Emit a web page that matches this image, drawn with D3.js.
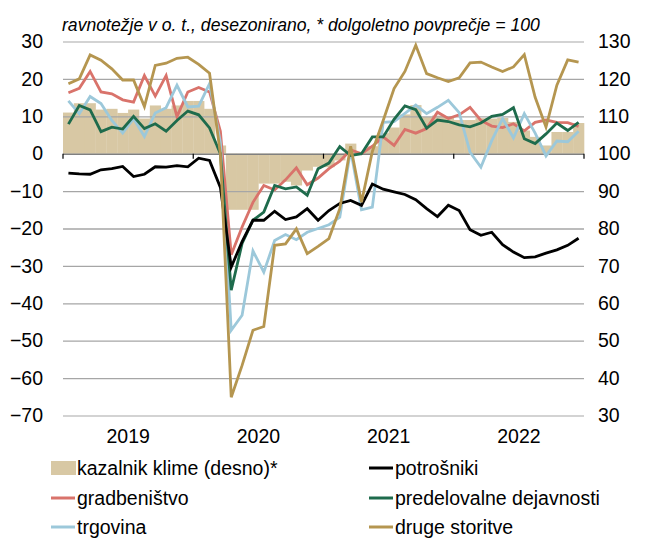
<!DOCTYPE html>
<html><head><meta charset="utf-8">
<script src="https://cdn.jsdelivr.net/npm/d3@7/dist/d3.min.js"></script>
<style>
body{margin:0;background:#fff}
svg{display:block;font-family:"Liberation Sans",Arial,sans-serif}
</style>
</head><body>
<svg id="chart" width="649" height="538"></svg>
<script>
const months = [
"2019-01","2019-02","2019-03","2019-04","2019-05","2019-06","2019-07","2019-08","2019-09","2019-10","2019-11","2019-12",
"2020-01","2020-02","2020-03","2020-04","2020-05","2020-06","2020-07","2020-08","2020-09","2020-10","2020-11","2020-12",
"2021-01","2021-02","2021-03","2021-04","2021-05","2021-06","2021-07","2021-08","2021-09","2021-10","2021-11","2021-12",
"2022-01","2022-02","2022-03","2022-04","2022-05","2022-06","2022-07","2022-08","2022-09","2022-10","2022-11","2022-12"];
const years = ["2019","2020","2021","2022"];
const leftTicks = [30,20,10,0,-10,-20,-30,-40,-50,-60,-70];
const rightTicks = [130,120,110,100,90,80,70,60,50,40,30];

// kazalnik klime (desno), long-term average = 100
const kazalnik = [
111,113.5,113.5,111.8,112,110.9,111.8,109.4,112.9,112,112.9,114.1,
114.1,112,102.2,85,85,85,92,92,92.5,91.5,95.5,96.5,
96.4,98.2,102.7,100.5,102,105.5,107,110.5,113,109.8,110.2,110,
109,109,109.5,109.4,109.6,108.5,106.2,104.5,102.2,105.8,105.8,108.2];
const potrosniki = [
-5.2,-5.4,-5.5,-4.3,-4.0,-3.4,-6.1,-5.5,-3.5,-3.6,-3.2,-3.5,
-1.2,-1.8,-9,-30.3,-23.5,-17.8,-17.8,-15.4,-17.6,-16.9,-14.7,-17.8,
-15.2,-13.3,-12.5,-13.8,-8.1,-9.5,-10.2,-10.9,-12.3,-14.7,-16.8,-13.8,
-15.2,-20.3,-21.8,-21.0,-24.3,-26.3,-27.8,-27.6,-26.6,-25.7,-24.5,-22.6];
const gradbenistvo = [
16.3,17.5,22,16.5,16,14.4,13.8,20.9,15.4,20.9,9.9,16.5,
17.7,16.5,6,-27,-19.6,-13,-8.5,-9.7,-7,-3.8,-8.3,-6.5,
-4,-2,1,0,2,4.5,2.2,6.5,5.5,6.7,11.1,9.4,
10.4,12.4,8.9,7.4,7,8,6.1,8.4,9,8.4,8.3,7.3];
const predelovalne = [
7.9,12.9,11.7,5.9,7.1,6.6,10,6.7,8,6,8.9,11.4,
10.4,6.9,0,-36.5,-24,-17.8,-15.6,-8.5,-9.4,-8.9,-11.1,-4,
-2.5,1.9,-0.5,0,4.5,4.5,9.2,12.8,11.8,6.8,9,8.6,
7.7,7.2,8.2,10,10.5,12.3,4,2.7,5.3,8.2,6.2,8.4];
const trgovina = [
14.1,10.7,15.3,13.4,8.9,5.5,9.4,4.6,10.9,12.3,18.3,12.5,
12.7,18.7,3,-47.2,-43.2,-26,-31.7,-23.2,-21.6,-23,-21,-20,
-19,-17,1,-15,-14.3,8.4,8.6,10.8,13,10.7,12.4,14.3,
11,0.4,-3.6,3.5,9.4,4.2,10.7,5.5,-0.6,3.4,3.2,6];
const drugeStoritve = [
18.7,20,26.4,25,22.7,19.7,19.7,12.6,23.6,24.2,25.5,25.8,
23.9,21.5,0,-65.1,-56.6,-47.2,-46.2,-24.5,-24.1,-20.1,-26.7,-24.8,
-22.7,-14.7,2,-13,0.6,8.9,17.4,22,29,21.4,20.3,19.3,
20.3,24.3,24.5,23.2,22,23.2,26.5,15.1,7.1,18.3,25.1,24.5];

const seriesNames = ["kazalnik klime (desno)*","potrošniki","gradbeništvo","predelovalne dejavnosti","trgovina","druge storitve"];
const seriesColors = ["#d8c8a4","#000000","#d9736b","#1e6b4c","#9cc8da","#b59650"];

const svg = d3.select("#chart");
const x = d3.scaleBand().domain(months).range([63,584]).padding(0);
const xYear = d3.scaleBand().domain(years).range([63,584]).padding(0);
const yL = d3.scaleLinear().domain([-70,30]).range([415.5,41.5]);
const yR = d3.scaleLinear().domain([30,130]).range([415.5,41.5]);

// subtitle
svg.append("text").attr("x",62).attr("y",31).attr("font-style","italic")
  .attr("font-size",17.6).attr("fill","#000")
  .text("ravnotežje v o. t., desezonirano, * dolgoletno povprečje = 100");

// bars
svg.append("g").selectAll("rect").data(kazalnik).join("rect")
  .attr("x",(d,i)=>x(months[i]))
  .attr("width",x.bandwidth()+0.3)
  .attr("y",d=>Math.min(yR(d),yR(100)))
  .attr("height",d=>Math.abs(yR(d)-yR(100)))
  .attr("fill",seriesColors[0]);

// gridlines
const grid = svg.append("g").attr("transform","translate(63,0)")
  .call(d3.axisLeft(yL).tickValues(leftTicks).tickSize(-(584-63)).tickFormat(""));
grid.select(".domain").remove();
grid.selectAll(".tick line")
  .attr("stroke",d=> d===0 ? "#808080" : (d===30||d===-70 ? "#c4c4c4" : "#a6a6a6"))
  .attr("stroke-width",d=> d===0 ? 1.6 : 1.3);

// year ticks on zero line
svg.append("g").selectAll("line").data(years.concat(["end"])).join("line")
  .attr("x1",(d,i)=> i<years.length ? xYear(d) : xYear.range()[1])
  .attr("x2",(d,i)=> i<years.length ? xYear(d) : xYear.range()[1])
  .attr("y1",yL(0)).attr("y2",yL(0)+5)
  .attr("stroke","#000").attr("stroke-width",1.2);

// left axis labels
const la = svg.append("g").attr("transform","translate(43,0)")
  .call(d3.axisLeft(yL).tickValues(leftTicks).tickSize(0).tickPadding(0).tickFormat(d3.format("d")));
la.select(".domain").remove();
la.selectAll("text").attr("font-size",19.5).attr("font-family","Liberation Sans, Arial, sans-serif").attr("fill","#000");

// right axis labels
const ra = svg.append("g").attr("transform","translate(598,0)")
  .call(d3.axisRight(yR).tickValues(rightTicks).tickSize(0).tickPadding(0).tickFormat(d3.format("d")));
ra.select(".domain").remove();
ra.selectAll("text").attr("font-size",19.5).attr("font-family","Liberation Sans, Arial, sans-serif").attr("fill","#000");

// year labels
const xa = svg.append("g").attr("transform","translate(0,429)")
  .call(d3.axisBottom(xYear).tickSize(0).tickPadding(0));
xa.select(".domain").remove();
xa.selectAll("text").attr("font-size",19.5).attr("font-family","Liberation Sans, Arial, sans-serif").attr("fill","#000");

// lines
const line = d3.line().x((d,i)=>x(months[i])+x.bandwidth()/2).y(d=>yL(d));
const lineData = [
  {v:gradbenistvo,c:seriesColors[2]},
  {v:trgovina,c:seriesColors[4]},
  {v:predelovalne,c:seriesColors[3]},
  {v:potrosniki,c:seriesColors[1]},
  {v:drugeStoritve,c:seriesColors[5]}
];
svg.append("g").selectAll("path").data(lineData).join("path")
  .attr("d",d=>line(d.v)).attr("fill","none").attr("stroke",d=>d.c)
  .attr("stroke-width",2.8).attr("stroke-linejoin","miter");

// legend
const legendPos = [[51,468],[369,468],[51,498],[369,498],[51,527],[369,527]];
const lg = svg.append("g").selectAll("g").data(seriesNames).join("g")
  .attr("transform",(d,i)=>`translate(${legendPos[i][0]},${legendPos[i][1]})`);
lg.each(function(d,i){
  const g = d3.select(this);
  if(i===0){
    g.append("rect").attr("x",0).attr("y",-7).attr("width",25).attr("height",14).attr("fill",seriesColors[0]);
  } else {
    g.append("line").attr("x1",0).attr("x2",24).attr("y1",0).attr("y2",0)
      .attr("stroke",seriesColors[i]).attr("stroke-width",3);
  }
  g.append("text").attr("x",26).attr("y",7).attr("font-size",19.5).attr("fill","#000").text(d);
});
</script>
</body></html>
